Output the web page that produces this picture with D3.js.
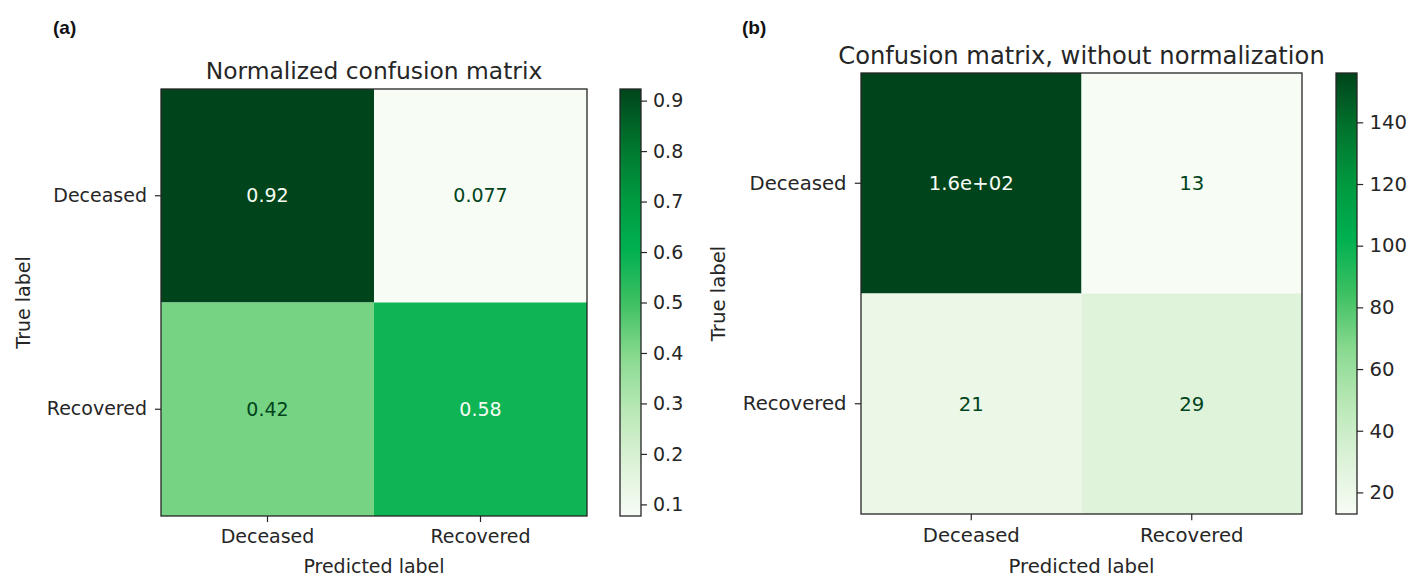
<!DOCTYPE html>
<html>
<head>
<meta charset="utf-8">
<script src="https://cdn.jsdelivr.net/npm/d3@7"></script>
<style>
  html, body { margin: 0; padding: 0; background: #ffffff; }
  svg { display: block; font-family: "DejaVu Sans", sans-serif; }
</style>
</head>
<body>
<svg id="chart" width="1426" height="582"></svg>
<script>
// Class labels shared by both matrices
const classes = ["Deceased", "Recovered"];

// Panel (a): row-normalized confusion matrix (rows = true, cols = predicted)
const normalizedRows = [
  [0.923, 0.077],
  [0.42, 0.58]
];
const normalizedTicks = [0.1, 0.2, 0.3, 0.4, 0.5, 0.6, 0.7, 0.8, 0.9];

// Panel (b): raw counts
const countRows = [
  [156, 13],
  [21, 29]
];
const countTicks = [20, 40, 60, 80, 100, 120, 140];

// Greens ramp used for the cells and colorbars
const rampStops = [0, 0.125, 0.25, 0.375, 0.5, 0.625, 0.75, 0.875, 1];
const rampColors = ["#f7fcf5", "#dcf2d8", "#b9e8b6", "#88d98f", "#3dc062",
                    "#00b050", "#00983f", "#00732d", "#00441b"];
const ramp = d3.scaleLinear().domain(rampStops).range(rampColors)
  .interpolate(d3.interpolateRgb).clamp(true);

const ink = "#262626";

// Python-style "%.2g" labels (e.g. 1.6e+02)
const fmt2g = v => d3.format(".2g")(v).replace(/e([+-])(\d)$/, "e$10$2");

const svg = d3.select("#chart");
const defs = svg.append("defs");

function drawPanel(opts) {
  const { id, letter, letterX, title, rows, ticks, x0, y0, w, h, cbX, cbW, titleGap, s } = opts;
  const fs = 19 * s;          // tick / annotation size
  const tfs = 23.4 * s;       // title size
  const flat = rows.flat();
  const vmin = d3.min(flat), vmax = d3.max(flat);
  const norm = d3.scaleLinear().domain([vmin, vmax]).range([0, 1]);
  const color = v => ramp(norm(v));
  const threshold = (vmin + vmax) / 2;

  const xs = d3.scaleBand().domain(classes).range([x0, x0 + w]);
  const ys = d3.scaleBand().domain(classes).range([y0, y0 + h]);

  const g = svg.append("g").attr("id", id);

  // panel letter
  g.append("text")
    .attr("x", letterX).attr("y", 34)
    .attr("font-family", "Liberation Sans, Arial, sans-serif")
    .attr("font-size", 19).attr("font-weight", "bold").attr("fill", "#111")
    .text(letter);

  // title
  g.append("text")
    .attr("x", x0 + w / 2).attr("y", y0 - titleGap)
    .attr("text-anchor", "middle").attr("font-size", tfs).attr("fill", ink)
    .text(title);

  // cells
  const cells = [];
  rows.forEach((r, i) => r.forEach((v, j) => cells.push({ t: classes[i], p: classes[j], v })));

  g.selectAll("rect.cell").data(cells).join("rect")
    .attr("class", "cell")
    .attr("x", d => xs(d.p)).attr("y", d => ys(d.t))
    .attr("width", xs.bandwidth()).attr("height", ys.bandwidth())
    .attr("fill", d => color(d.v));

  g.selectAll("text.val").data(cells).join("text")
    .attr("class", "val")
    .attr("x", d => xs(d.p) + xs.bandwidth() / 2)
    .attr("y", d => ys(d.t) + ys.bandwidth() / 2)
    .attr("dy", "0.35em")
    .attr("text-anchor", "middle").attr("font-size", fs)
    .attr("fill", d => d.v > threshold ? rampColors[0] : rampColors[rampColors.length - 1])
    .text(d => fmt2g(d.v));

  // axes
  const xAxis = d3.axisBottom(xs).tickSize(6 * s).tickPadding(8 * s);
  const gx = g.append("g").attr("transform", `translate(0,${y0 + h})`).call(xAxis);
  const yAxis = d3.axisLeft(ys).tickSize(6 * s).tickPadding(8 * s);
  const gy = g.append("g").attr("transform", `translate(${x0},0)`).call(yAxis);
  [gx, gy].forEach(a => {
    a.select(".domain").remove();
    a.selectAll(".tick line").attr("stroke", ink).attr("stroke-width", 1.2);
    a.selectAll(".tick text").attr("font-size", fs).attr("fill", ink)
      .attr("font-family", "DejaVu Sans, sans-serif");
  });

  // frame
  g.append("rect")
    .attr("x", x0).attr("y", y0).attr("width", w).attr("height", h)
    .attr("fill", "none").attr("stroke", ink).attr("stroke-width", 1.3);

  // axis titles
  g.append("text")
    .attr("x", x0 + w / 2).attr("y", y0 + h + 57 * s)
    .attr("text-anchor", "middle").attr("font-size", fs).attr("fill", ink)
    .text("Predicted label");
  g.append("text")
    .attr("transform", `translate(${x0 - 131 * s},${y0 + h / 2}) rotate(-90)`)
    .attr("text-anchor", "middle").attr("font-size", fs).attr("fill", ink)
    .text("True label");

  // colorbar
  const cs = d3.scaleLinear().domain([vmin, vmax]).range([y0 + h, y0]);
  const grad = defs.append("linearGradient")
    .attr("id", id + "-grad").attr("x1", 0).attr("y1", 1).attr("x2", 0).attr("y2", 0);
  grad.selectAll("stop").data(rampStops).join("stop")
    .attr("offset", d => d).attr("stop-color", (d, i) => rampColors[i]);
  g.append("rect")
    .attr("x", cbX).attr("y", y0).attr("width", cbW).attr("height", h)
    .attr("fill", `url(#${id}-grad)`)
    .attr("stroke", ink).attr("stroke-width", 1.3);
  const cAxis = d3.axisRight(cs).tickValues(ticks).tickSize(6 * s).tickPadding(6 * s)
    .tickFormat(d3.format(""));
  const gc = g.append("g").attr("transform", `translate(${cbX + cbW},0)`).call(cAxis);
  gc.select(".domain").remove();
  gc.selectAll(".tick line").attr("stroke", ink).attr("stroke-width", 1.2);
  gc.selectAll(".tick text").attr("font-size", fs).attr("fill", ink)
    .attr("font-family", "DejaVu Sans, sans-serif");
}

drawPanel({
  id: "panelA", letter: "(a)", letterX: 53,
  title: "Normalized confusion matrix",
  rows: normalizedRows, ticks: normalizedTicks,
  x0: 161, y0: 89, w: 426, h: 427, cbX: 620, cbW: 21, titleGap: 10, s: 1
});

drawPanel({
  id: "panelB", letter: "(b)", letterX: 742,
  title: "Confusion matrix, without normalization",
  rows: countRows, ticks: countTicks,
  x0: 861, y0: 73, w: 441, h: 441, cbX: 1336, cbW: 21, titleGap: 9, s: 1.035
});
</script>
</body>
</html>
